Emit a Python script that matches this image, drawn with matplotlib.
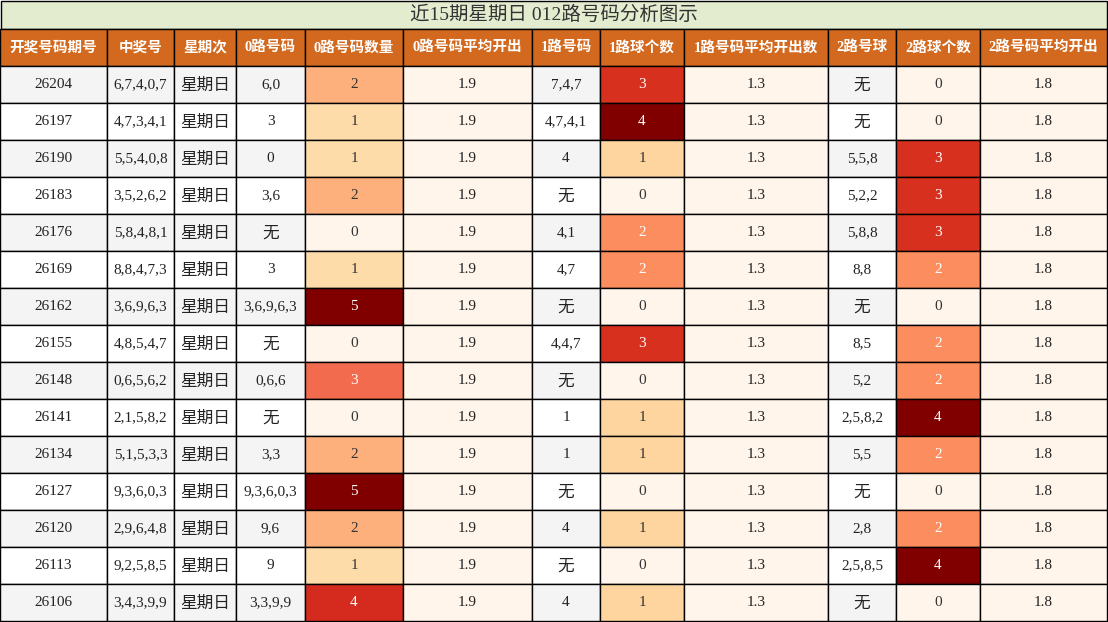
import matplotlib
matplotlib.use("Agg")
import matplotlib.pyplot as plt
from matplotlib.patches import Rectangle

title = "近15期星期日 012路号码分析图示"
headers = ["开奖号码期号","中奖号","星期次","0路号码","0路号码数量","0路号码平均开出","1路号码","1路球个数","1路号码平均开出数","2路号球","2路球个数","2路号码平均开出"]
periods = ["26204","26197","26190","26183","26176","26169","26162","26155","26148","26141","26134","26127","26120","26113","26106"]
numbers = ["6,7,4,0,7","4,7,3,4,1","5,5,4,0,8","3,5,2,6,2","5,8,4,8,1","8,8,4,7,3","3,6,9,6,3","4,8,5,4,7","0,6,5,6,2","2,1,5,8,2","5,1,5,3,3","9,3,6,0,3","2,9,6,4,8","9,2,5,8,5","3,4,3,9,9"]
weekday = ["星期日"]*15
r0 = ["6,0","3","0","3,6","无","3","3,6,9,6,3","无","0,6,6","无","3,3","9,3,6,0,3","9,6","9","3,3,9,9"]
c0 = [2,1,1,2,0,1,5,0,3,0,2,5,2,1,4]
avg0 = ["1.9"]*15
r1 = ["7,4,7","4,7,4,1","4","无","4,1","4,7","无","4,4,7","无","1","1","无","4","无","4"]
c1 = [3,4,1,0,2,2,0,3,0,1,1,0,1,0,1]
avg1 = ["1.3"]*15
r2 = ["无","无","5,5,8","5,2,2","5,8,8","8,8","无","8,5","5,2","2,5,8,2","5,5","无","2,8","2,5,8,5","无"]
c2 = [0,0,3,3,3,2,0,2,2,4,2,0,2,4,0]
avg2 = ["1.8"]*15

W, H = 1108, 622
fig = plt.figure(figsize=(W/100, H/100), dpi=100)
ax = fig.add_axes([0,0,1,1]); ax.set_xlim(0,W); ax.set_ylim(H,0); ax.axis('off')
xs = [0,107,174,236,305,403,532,600,684,828,896,980,1107]
FAM = ['Liberation Serif','Noto Sans CJK SC']
CJK = ['Noto Sans CJK SC','DejaVu Sans']

pal0 = {0:"#FFF5EA",1:"#FEDCAA",2:"#FDB07C",3:"#F26B4E",4:"#D52B1E",5:"#800000"}
pal1 = {0:"#FFF5EA",1:"#FED59E",2:"#FC8D5F",3:"#D7301F",4:"#800000"}

ax.add_patch(Rectangle((0.5,0.5),W-1.5,28.5,facecolor="#E3ECCE",edgecolor="black",lw=1))
ax.text(W/2,15,title,ha='center',va='center',fontsize=14,family=FAM,color="#333333")
y0, hh = 29, 37
for j,h in enumerate(headers):
    ax.add_patch(Rectangle((xs[j],y0),xs[j+1]-xs[j],hh,facecolor="#D2691E",edgecolor="black",lw=1))
    ax.text((xs[j]+xs[j+1])/2,y0+hh/2,h,ha='center',va='center',fontsize=10.5,color='white',fontweight='bold',family=FAM)
cols = [periods,numbers,weekday,r0,c0,avg0,r1,c1,avg1,r2,c2,avg2]
for i in range(15):
    y = 66+i*hh
    base = "#F4F4F4" if i%2==0 else "white"
    for j,col in enumerate(cols):
        v = col[i]; tc = "#222222"
        if j==4: fc = pal0[v]; tc = "white" if v>=3 else "#333333"
        elif j in (7,10): fc = pal1[v]; tc = "white" if v>=2 else "#333333"
        elif j in (5,8,11): fc = "#FFF5EA"
        else: fc = base
        ax.add_patch(Rectangle((xs[j],y),xs[j+1]-xs[j],hh,facecolor=fc,edgecolor="black",lw=1))
        s = str(v)
        cjk = any(ord(ch)>127 for ch in s)
        ax.text((xs[j]+xs[j+1])/2,y+hh/2+(1 if cjk else 0),s,ha='center',va='center',
                fontsize=12 if cjk else 11,color=tc,family=CJK if cjk else FAM)
fig.savefig("out.png",dpi=100)
